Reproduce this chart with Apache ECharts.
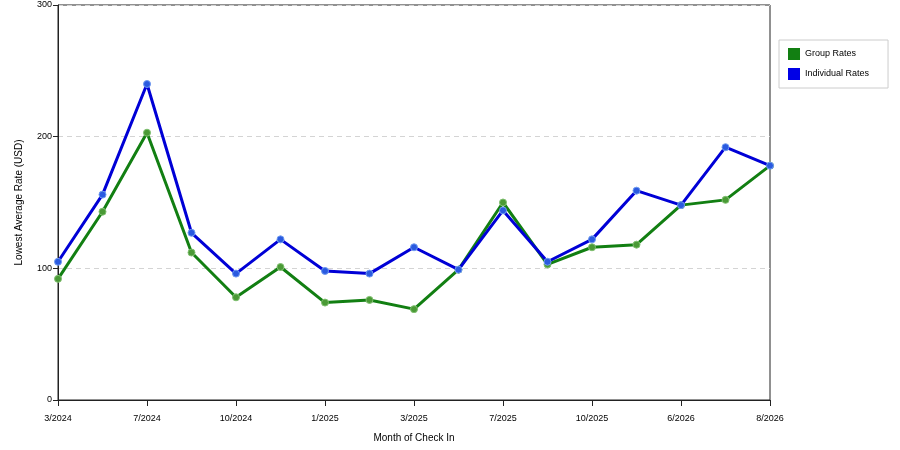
<!DOCTYPE html>
<html>
<head>
<meta charset="utf-8">
<script src="https://cdn.jsdelivr.net/npm/echarts@6/dist/echarts.min.js"></script>
<style>
html,body{margin:0;padding:0;background:#fff;}
#chart{width:900px;height:450px;}
</style>
</head>
<body>
<div id="chart"></div>
<script>
const categories = ['3/2024','5/2024','7/2024','8/2024','10/2024','11/2024','1/2025','2/2025','3/2025','5/2025','7/2025','8/2025','10/2025','11/2025','6/2026','7/2026','8/2026'];
const groupRates = [92, 143, 203, 112, 78, 101, 74, 76, 69, 99, 150, 103, 116, 118, 148, 152, 178];
const individualRates = [105, 156, 240, 127, 96, 122, 98, 96, 116, 99, 144, 105, 122, 159, 148, 192, 178];
const yTicks = [0, 100, 200, 300];

const FONT = 'Liberation Sans, Arial, sans-serif';
const chart = echarts.init(document.getElementById('chart'));
chart.setOption({
  animation: false,
  backgroundColor: '#fff',
  textStyle: { fontFamily: FONT },
  grid: { left: 58, right: 130, top: 5, bottom: 50, show: true, borderColor: '#222', borderWidth: 1, backgroundColor: 'transparent' },
  legend: {
    orient: 'vertical', left: 779, top: 40,
    padding: [8, 19, 8, 9], itemGap: 8, itemWidth: 12, itemHeight: 12,
    borderColor: '#ccc', borderWidth: 1, icon: 'rect',
    textStyle: { fontSize: 9, color: '#000', fontFamily: FONT },
    data: [
      { name: 'Group Rates', itemStyle: { color: '#127f12', borderWidth: 0 } },
      { name: 'Individual Rates', itemStyle: { color: '#0000e6', borderWidth: 0 } }
    ]
  },
  xAxis: {
    type: 'category', data: categories, boundaryGap: false,
    name: 'Month of Check In', nameLocation: 'middle', nameGap: 33,
    nameTextStyle: { fontSize: 10, color: '#000', fontFamily: FONT },
    axisLine: { lineStyle: { color: '#222', width: 1 } },
    axisTick: { interval: 1, length: 6, lineStyle: { color: '#222' } },
    axisLabel: { interval: 1, fontSize: 9, color: '#000', margin: 14, fontFamily: FONT },
    splitLine: { show: false }
  },
  yAxis: {
    type: 'value', min: yTicks[0], max: yTicks[yTicks.length - 1], interval: 100,
    name: 'Lowest Average Rate (USD)', nameLocation: 'middle', nameGap: 34, nameRotate: 90,
    nameTextStyle: { fontSize: 10, color: '#000', fontFamily: FONT },
    axisLine: { show: true, lineStyle: { color: '#222', width: 1 } },
    axisTick: { show: true, length: 5, lineStyle: { color: '#222' } },
    axisLabel: { fontSize: 9, color: '#000', margin: 6, fontFamily: FONT },
    splitLine: { show: true, lineStyle: { color: '#d4d4d4', type: [5, 4], width: 1 } }
  },
  series: [
    {
      name: 'Group Rates', type: 'line', data: groupRates, z: 2,
      symbol: 'circle', symbolSize: 7,
      lineStyle: { color: '#127f12', width: 3 },
      itemStyle: { color: '#4a9a36', borderColor: '#7fbf6f', borderWidth: 1 }
    },
    {
      name: 'Individual Rates', type: 'line', data: individualRates, z: 3,
      symbol: 'circle', symbolSize: 7,
      lineStyle: { color: '#0000d6', width: 3 },
      itemStyle: { color: '#2a5ae0', borderColor: '#6f9af0', borderWidth: 1 }
    }
  ]
});
</script>
</body>
</html>
